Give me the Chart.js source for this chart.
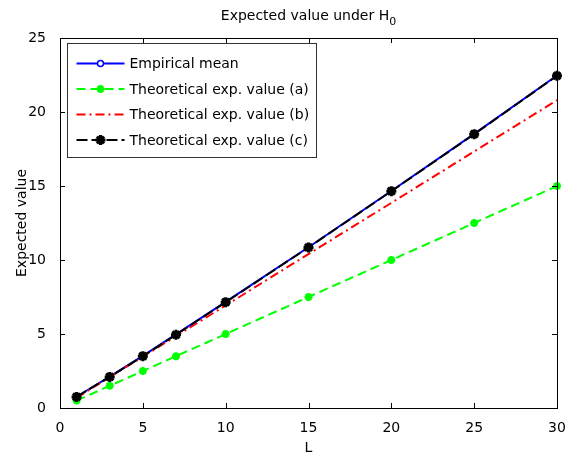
<!DOCTYPE html>
<html lang="en">
<head>
<meta charset="UTF-8" />
<title>Expected value under H0</title>
<script src="https://cdn.jsdelivr.net/npm/chart.js"></script>
<style>
  html, body { margin: 0; padding: 0; background: #fff; }
  #wrap { width: 577px; height: 458px; }
</style>
</head>
<body>
<div id="wrap"><canvas id="grafico"></canvas></div>
<script>
// values
var L = [1, 3, 5, 7, 10, 15, 20, 25, 30];
var empiricalMean = [0.76, 2.12, 3.52, 4.97, 7.17, 10.86, 14.66, 18.52, 22.47];
var theoA = [0.5, 1.5, 2.5, 3.5, 5, 7.5, 10, 12.5, 15];
var theoB = [0.69, 2.08, 3.47, 4.85, 6.93, 10.4, 13.86, 17.33, 20.8];
var theoC = [0.75, 2.1, 3.5, 4.95, 7.15, 10.85, 14.65, 18.5, 22.45];
var xTicks = [0, 5, 10, 15, 20, 25, 30];
var yTicks = [0, 5, 10, 15, 20, 25];

var FONT = 'DejaVu Sans';

function pares(ys) {
    return L.map(function (x, i) { return { x: x, y: ys[i] }; });
}

// axes box with inward ticks, like matlab
var caixa = {
    id: 'caixa',
    afterDatasetsDraw: function (chart) {
        var ctx = chart.ctx, a = chart.chartArea;
        var sx = chart.scales.x, sy = chart.scales.y;
        ctx.save();
        ctx.strokeStyle = '#000';
        ctx.lineWidth = 1;
        ctx.strokeRect(Math.round(a.left) + 0.5, Math.round(a.top) + 0.5,
            Math.round(a.right - a.left), Math.round(a.bottom - a.top));
        ctx.beginPath();
        xTicks.forEach(function (v) {
            var px = Math.round(sx.getPixelForValue(v)) + 0.5;
            ctx.moveTo(px, a.bottom); ctx.lineTo(px, a.bottom - 5);
            ctx.moveTo(px, a.top); ctx.lineTo(px, a.top + 5);
        });
        yTicks.forEach(function (v) {
            var py = Math.round(sy.getPixelForValue(v)) + 0.5;
            ctx.moveTo(a.left, py); ctx.lineTo(a.left + 5, py);
            ctx.moveTo(a.right, py); ctx.lineTo(a.right - 5, py);
        });
        ctx.stroke();
        ctx.restore();
    },
    afterDraw: function (chart) {
        var ctx = chart.ctx, a = chart.chartArea;
        var cx = (a.left + a.right) / 2;
        ctx.save();
        ctx.fillStyle = '#000';
        ctx.font = '14px "' + FONT + '"';
        ctx.textBaseline = 'alphabetic';
        // title with subscript
        var t1 = 'Expected value under H', t2 = '0';
        var w1 = ctx.measureText(t1).width;
        ctx.font = '11px "' + FONT + '"';
        var w2 = ctx.measureText(t2).width;
        var x0 = cx - (w1 + w2) / 2;
        ctx.font = '14px "' + FONT + '"';
        ctx.textAlign = 'left';
        ctx.fillText(t1, x0, 20);
        ctx.font = '11px "' + FONT + '"';
        ctx.fillText(t2, x0 + w1, 25);
        // axis labels
        ctx.font = '14px "' + FONT + '"';
        ctx.textAlign = 'center';
        ctx.textBaseline = 'middle';
        ctx.fillText('L', cx, 448);
        ctx.translate(22, (a.top + a.bottom) / 2);
        ctx.rotate(-Math.PI / 2);
        ctx.fillText('Expected value', 0, 0);
        ctx.restore();

        // legend box inside the axes
        ctx.save();
        ctx.font = '14px "' + FONT + '"';
        var sets = chart.data.datasets;
        var maxW = 0;
        sets.forEach(function (d) { maxW = Math.max(maxW, ctx.measureText(d.label).width); });
        var bx = Math.round(a.left) + 7.5, by = Math.round(a.top) + 5.5;
        var bw = Math.round(62 + maxW + 7), bh = 114;
        ctx.fillStyle = '#fff';
        ctx.fillRect(bx, by, bw, bh);
        ctx.strokeStyle = '#333';
        ctx.lineWidth = 1;
        ctx.strokeRect(bx, by, bw, bh);
        sets.forEach(function (d, i) {
            var y = by + 20 + i * 25.5;
            ctx.save();
            ctx.strokeStyle = d.borderColor;
            ctx.lineWidth = d.borderWidth;
            ctx.setLineDash(d.borderDash || []);
            ctx.beginPath();
            ctx.moveTo(bx + 9, y); ctx.lineTo(bx + 57, y);
            ctx.stroke();
            ctx.setLineDash([]);
            if (d.pointRadius > 0) {
                ctx.strokeStyle = d.pointBorderColor;
                ctx.fillStyle = d.pointBackgroundColor;
                ctx.lineWidth = d.pointBorderWidth;
                Chart.helpers.drawPoint(ctx, {
                    pointStyle: d.pointStyle, rotation: 0,
                    radius: d.pointRadius, borderWidth: d.pointBorderWidth
                }, bx + 33, y);
            }
            ctx.restore();
            ctx.fillStyle = '#000';
            ctx.textAlign = 'left';
            ctx.textBaseline = 'middle';
            ctx.fillText(d.label, bx + 62, y + 1);
        });
        ctx.restore();
    }
};

new Chart(document.getElementById('grafico'), {
    type: 'line',
    data: {
        datasets: [{
            label: 'Empirical mean',
            data: pares(empiricalMean),
            borderColor: '#0000ff',
            borderWidth: 2,
            pointStyle: 'circle',
            pointRadius: 3,
            pointBorderWidth: 1.5,
            pointBorderColor: '#0000ff',
            pointBackgroundColor: '#ffffff',
            order: 3,
            clip: false
        }, {
            label: 'Theoretical exp. value (a)',
            data: pares(theoA),
            borderColor: '#00ff00',
            borderWidth: 2,
            borderDash: [9, 5],
            pointStyle: 'star',
            pointRadius: 4,
            pointBorderWidth: 2.5,
            pointBorderColor: '#00ff00',
            pointBackgroundColor: '#00ff00',
            order: 2,
            clip: false
        }, {
            label: 'Theoretical exp. value (b)',
            data: pares(theoB),
            borderColor: '#ff0000',
            borderWidth: 2,
            borderDash: [9, 4, 2, 4],
            pointRadius: 0,
            order: 1,
            clip: false
        }, {
            label: 'Theoretical exp. value (c)',
            data: pares(theoC),
            borderColor: '#000000',
            borderWidth: 2,
            borderDash: [11, 4],
            pointStyle: 'star',
            pointRadius: 5,
            pointBorderWidth: 3,
            pointBorderColor: '#000000',
            pointBackgroundColor: '#000000',
            order: 0,
            clip: false
        }]
    },
    options: {
        responsive: true,
        maintainAspectRatio: false,
        animation: false,
        layout: { padding: { top: 38, right: 20, left: 0, bottom: 0 } },
        plugins: {
            legend: { display: false },
            title: { display: false },
            tooltip: { enabled: false }
        },
        scales: {
            x: {
                type: 'linear', min: 0, max: 30,
                afterBuildTicks: function (s) { s.ticks = xTicks.map(function (v) { return { value: v }; }); },
                afterFit: function (s) { s.height = 50; },
                grid: { display: false },
                border: { display: false },
                ticks: { color: '#000', padding: 4, font: { family: FONT, size: 14 } }
            },
            y: {
                type: 'linear', min: 0, max: 25,
                afterBuildTicks: function (s) { s.ticks = yTicks.map(function (v) { return { value: v }; }); },
                afterFit: function (s) { s.width = 60; },
                grid: { display: false },
                border: { display: false },
                ticks: { color: '#000', padding: 6, font: { family: FONT, size: 14 } }
            }
        }
    },
    plugins: [caixa]
});
</script>
</body>
</html>
